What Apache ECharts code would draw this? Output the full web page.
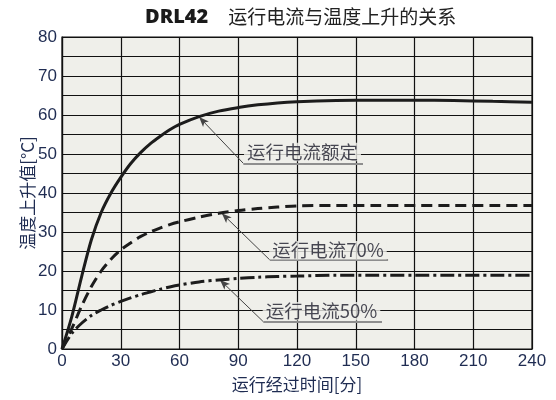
<!DOCTYPE html>
<html>
<head>
<meta charset="utf-8">
<script src="https://cdn.jsdelivr.net/npm/echarts@6/dist/echarts.min.js"></script>
<style>html,body{margin:0;padding:0;background:#fff}#c{width:556px;height:400px}</style>
</head>
<body>
<div id="c"></div>
<script>
// ---- data ----
var titleCode = 'DRL42';
var titleText = '运行电流与温度上升的关系';
var xName = '运行经过时间[分]';
var yName = '温度上升值[°C]';
var xTicks = [0, 30, 60, 90, 120, 150, 180, 210, 240];
var yTicks = [0, 10, 20, 30, 40, 50, 60, 70, 80];

var timeRated = [0, 5, 10, 15, 20, 25, 30, 35, 40, 45, 50, 55, 60, 70, 80, 90, 100, 110, 120, 140, 160, 180, 200, 220, 240];
var tempRated = [0, 8.3, 18.5, 28, 35, 40, 44, 47.5, 50.3, 52.6, 54.5, 56.2, 57.6, 59.6, 61, 61.9, 62.6, 63.1, 63.4, 63.7, 63.8, 63.8, 63.7, 63.5, 63.3];

var time70 = [0, 5, 10, 15, 20, 25, 30, 35, 40, 45, 50, 55, 60, 70, 80, 90, 100, 110, 120, 140, 160, 180, 200, 220, 240];
var temp70 = [0, 5.2, 11, 16, 20, 23, 25.4, 27.2, 28.8, 30, 31, 31.9, 32.6, 33.8, 34.8, 35.5, 36, 36.4, 36.7, 36.8, 36.8, 36.8, 36.8, 36.8, 36.8];

var time50 = [0, 5, 10, 15, 20, 25, 30, 35, 40, 45, 50, 55, 60, 70, 80, 90, 100, 110, 120, 140, 160, 180, 200, 220, 240];
var temp50 = [0, 4, 6.6, 8.6, 10, 11.2, 12.2, 13.1, 13.9, 14.6, 15.3, 15.9, 16.4, 17.2, 17.7, 18.1, 18.4, 18.6, 18.7, 18.9, 18.9, 18.9, 18.9, 18.9, 18.9];

var labelNames = ['运行电流额定', '运行电流70%', '运行电流50%'];
// leader line points in data units: arrow tip, elbow, underline end, text anchor
var annTip = [[70, 59.5], [81.6, 34.8], [80.7, 17.7]];
var annElbow = [[92.6, 47.6], [106.2, 22.8], [102.8, 7]];
var annEnd = [[153.7, 47.6], [166.5, 22.8], [163.4, 7]];
var annText = [[122.8, 50.5], [135.8, 25.3], [132.5, 9.7]];

function pairs(xs, ys) { return xs.map(function (x, i) { return [x, ys[i]]; }); }

var cjk = '"Noto Sans CJK SC", "Noto Sans", sans-serif';
var num = '"Liberation Sans", Arial, sans-serif';
var navy = '#1f2c52';

var annSeries = [];
for (var i = 0; i < 3; i++) {
  annSeries.push({
    type: 'line',
    data: [],
    silent: true,
    markLine: {
      silent: true,
      animation: false,
      label: { show: false },
      data: [
        [{ coord: annTip[i], symbol: 'arrow', symbolSize: [6, 10], lineStyle: { color: '#444', width: 1, type: 'solid' } },
         { coord: annElbow[i], symbol: 'none' }],
        [{ coord: annElbow[i], symbol: 'none', lineStyle: { color: '#8e8e8e', width: 2, type: 'solid' } },
         { coord: annEnd[i], symbol: 'none' }]
      ]
    }
  });
}

var textData = annText.map(function (p, i) { return { value: [p[0], p[1]], name: labelNames[i] }; });

var chart = echarts.init(document.getElementById('c'), null, { renderer: 'canvas' });
chart.setOption({
  animation: false,
  backgroundColor: '#fff',
  title: {
    left: 140, top: 2,
    text: '{b|' + titleCode + '}{n|' + titleText + '}',
    textStyle: {
      fontWeight: 'normal',
      rich: {
        b: { fontFamily: '"Open Sans", "Noto Sans", sans-serif', fontWeight: 800, fontSize: 20, color: '#1a1a1a', padding: [0, 20, 0, 0] },
        n: { fontFamily: cjk, fontWeight: 'normal', fontSize: 19, color: '#222' }
      }
    }
  },
  grid: { left: 62, right: 24, top: 37, bottom: 51, show: true, backgroundColor: '#efefea', borderColor: '#111', borderWidth: 1.2 },
  xAxis: {
    type: 'value', min: xTicks[0], max: xTicks[xTicks.length - 1], interval: 30,
    name: xName, nameLocation: 'middle', nameGap: 27, nameMoveOverlap: false,
    nameTextStyle: { fontFamily: cjk, fontSize: 17, color: navy },
    axisLine: { show: true, lineStyle: { color: '#111', width: 1.2 } },
    axisTick: { show: false },
    axisLabel: { fontFamily: num, fontSize: 17, color: navy, margin: 4 },
    splitLine: { show: true, lineStyle: { color: '#111', width: 1.2 } }
  },
  yAxis: {
    type: 'value', min: yTicks[0], max: yTicks[yTicks.length - 1], interval: 5,
    name: yName, nameLocation: 'middle', nameGap: 26, nameRotate: 90, nameMoveOverlap: false,
    nameTextStyle: { fontFamily: cjk, fontSize: 17, color: navy },
    axisLine: { show: true, lineStyle: { color: '#111', width: 1.2 } },
    axisTick: { show: false },
    axisLabel: { fontFamily: num, fontSize: 17, color: navy, margin: 5,
      formatter: function (v) { return yTicks.indexOf(v) >= 0 ? String(v) : ''; } },
    splitLine: { show: true, lineStyle: { color: '#111', width: 1.2 } }
  },
  series: [
    { type: 'line', data: pairs(timeRated, tempRated), smooth: 0.3, showSymbol: false, z: 5,
      lineStyle: { color: '#1c1c1c', width: 3 } },
    { type: 'line', data: pairs(time70, temp70), smooth: 0.3, showSymbol: false, z: 5,
      lineStyle: { color: '#1c1c1c', width: 3, type: [11, 6] } },
    { type: 'line', data: pairs(time50, temp50), smooth: 0.3, showSymbol: false, z: 5,
      lineStyle: { color: '#1c1c1c', width: 3, type: [14, 4, 3, 4] } }
  ].concat(annSeries).concat([
    { type: 'scatter', data: textData, symbolSize: 0, z: 10, silent: true,
      label: { show: true, position: 'inside', formatter: '{b}', fontFamily: cjk, fontSize: 18.5, color: '#1b1b2a',
        backgroundColor: '#efefea', padding: [0, 3] } }
  ])
});
</script>
</body>
</html>
